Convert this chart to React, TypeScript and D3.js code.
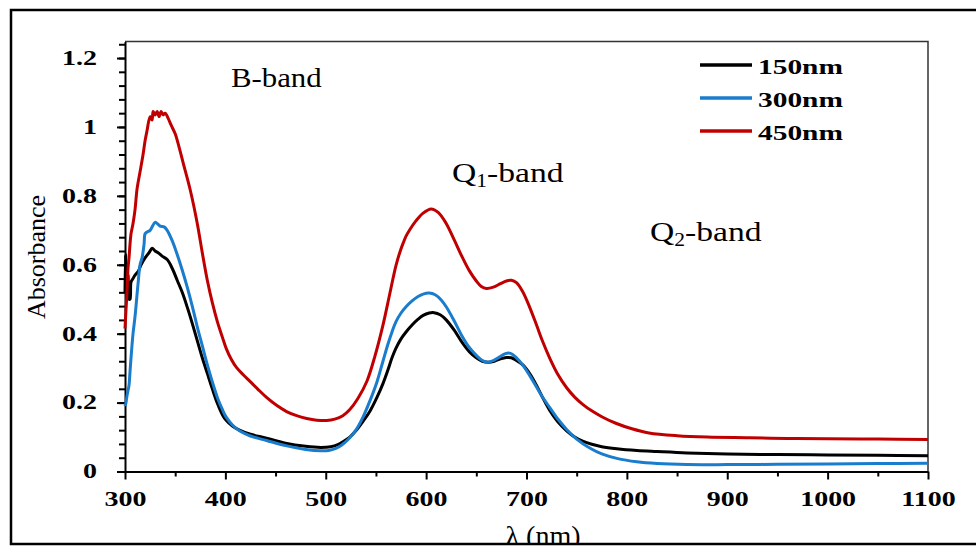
import React, { useEffect, useRef } from "react";
import * as d3 from "d3";

// [wavelength nm, absorbance]
const film150: [number, number][] = [
  [300, 0.52], [300.5, 0.63], [301, 0.58], [302, 0.55], [303, 0.57], [304, 0.5], [305, 0.5],
  [306, 0.55], [308, 0.56], [310, 0.57], [313, 0.58], [316, 0.6], [320, 0.62], [324, 0.635],
  [327, 0.648], [330, 0.64], [333, 0.635], [337, 0.625], [342, 0.615], [347, 0.59], [352, 0.555],
  [357, 0.52], [362, 0.477], [367, 0.43], [372, 0.38], [377, 0.33], [382, 0.285], [387, 0.24],
  [392, 0.198], [397, 0.165], [401, 0.148], [407, 0.132], [414, 0.12], [425, 0.108], [441, 0.097],
  [460, 0.082], [480, 0.073], [495, 0.07], [505, 0.072], [512, 0.078], [518, 0.088], [524, 0.1],
  [530, 0.118], [537, 0.145], [544, 0.175], [551, 0.215], [557, 0.255], [562, 0.295], [566, 0.33],
  [570, 0.358], [575, 0.385], [580, 0.405], [586, 0.425], [592, 0.442], [597, 0.453], [603, 0.46],
  [608, 0.461], [614, 0.455], [620, 0.44], [628, 0.41], [636, 0.374], [643, 0.348], [650, 0.33],
  [656, 0.32], [662, 0.317], [668, 0.32], [674, 0.327], [680, 0.331], [685, 0.33], [690, 0.322],
  [696, 0.31], [703, 0.285], [710, 0.25], [716, 0.215], [723, 0.178], [731, 0.145], [740, 0.118],
  [748, 0.1], [756, 0.088], [765, 0.079], [775, 0.072], [790, 0.066], [810, 0.061], [830, 0.058],
  [860, 0.054], [900, 0.051], [950, 0.049], [1000, 0.048], [1050, 0.047], [1100, 0.046],
];

const film300: [number, number][] = [
  [300, 0.19], [301, 0.2], [302, 0.22], [303, 0.235], [304, 0.25], [305, 0.29], [306, 0.33],
  [308, 0.4], [310, 0.45], [313, 0.545], [315, 0.6], [317, 0.62], [319, 0.66], [320, 0.69],
  [322, 0.695], [325, 0.7], [327, 0.71], [330, 0.723], [332, 0.72], [335, 0.712], [339, 0.71],
  [342, 0.7], [347, 0.67], [352, 0.63], [357, 0.585], [362, 0.535], [367, 0.48], [372, 0.42],
  [377, 0.365], [382, 0.31], [387, 0.26], [392, 0.215], [397, 0.18], [401, 0.157], [407, 0.135],
  [414, 0.118], [425, 0.103], [441, 0.09], [460, 0.075], [480, 0.064], [495, 0.06], [503, 0.061],
  [510, 0.067], [516, 0.077], [522, 0.092], [530, 0.12], [537, 0.157], [544, 0.205], [551, 0.26],
  [557, 0.32], [562, 0.37], [566, 0.405], [570, 0.435], [575, 0.46], [580, 0.478], [586, 0.495],
  [592, 0.508], [597, 0.515], [603, 0.518], [609, 0.513], [615, 0.498], [620, 0.478], [628, 0.437],
  [636, 0.392], [643, 0.36], [650, 0.337], [656, 0.322], [661, 0.317], [667, 0.322], [673, 0.332],
  [679, 0.342], [684, 0.343], [690, 0.33], [696, 0.31], [706, 0.265], [714, 0.225], [723, 0.186],
  [731, 0.153], [740, 0.122], [750, 0.094], [763, 0.068], [775, 0.051], [790, 0.038], [810, 0.028],
  [830, 0.023], [860, 0.02], [900, 0.02], [950, 0.021], [1000, 0.022], [1050, 0.023], [1100, 0.024],
];

const film450: [number, number][] = [
  [300, 0.415], [301, 0.47], [302, 0.52], [303, 0.59], [304, 0.62], [305, 0.66], [306, 0.69],
  [308, 0.72], [310, 0.76], [312, 0.82], [315, 0.87], [318, 0.92], [320, 0.96], [322, 0.99],
  [325, 1.03], [327, 1.02], [328, 1.045], [330, 1.035], [332, 1.045], [334, 1.03], [336, 1.045],
  [338, 1.035], [340, 1.04], [343, 1.025], [346, 1.005], [350, 0.98], [354, 0.94], [358, 0.895],
  [365, 0.817], [372, 0.72], [377, 0.635], [382, 0.555], [387, 0.49], [392, 0.435], [397, 0.39],
  [401, 0.356], [406, 0.325], [411, 0.302], [418, 0.28], [424, 0.263], [432, 0.24], [441, 0.215],
  [451, 0.192], [461, 0.174], [471, 0.162], [481, 0.154], [491, 0.149], [501, 0.148], [509, 0.152],
  [517, 0.162], [524, 0.18], [532, 0.212], [541, 0.262], [549, 0.335], [557, 0.425], [563, 0.505],
  [567, 0.56], [570, 0.598], [574, 0.638], [577, 0.662], [580, 0.683], [584, 0.703], [590, 0.728],
  [597, 0.75], [605, 0.762], [612, 0.752], [620, 0.72], [628, 0.672], [636, 0.622], [643, 0.583],
  [650, 0.553], [655, 0.537], [660, 0.531], [667, 0.535], [674, 0.545], [680, 0.553], [685, 0.555],
  [690, 0.548], [696, 0.523], [703, 0.478], [710, 0.425], [716, 0.378], [723, 0.33], [731, 0.283],
  [740, 0.243], [748, 0.216], [756, 0.195], [765, 0.176], [775, 0.159], [789, 0.14], [805, 0.124],
  [822, 0.112], [850, 0.104], [880, 0.1], [922, 0.098], [960, 0.096], [1000, 0.095], [1050, 0.094],
  [1100, 0.093],
];

const seriesNames = ["150nm", "300nm", "450nm"];
const seriesColors = ["#000000", "#1a7ccc", "#c00000"];
const xTicks = [300, 400, 500, 600, 700, 800, 900, 1000, 1100];
const yTicks = [0, 0.2, 0.4, 0.6, 0.8, 1, 1.2];

const FONT = "'Liberation Serif', 'Times New Roman', serif";

export default function App() {
  const ref = useRef<SVGSVGElement>(null);

  useEffect(() => {
    const svg = d3.select(ref.current);
    svg.selectAll("*").remove();

    const x = d3.scaleLinear().domain([300, 1100]).range([125, 928]);
    const y = d3.scaleLinear().domain([0, 1.248]).range([471.5, 41.5]);

    // outer frame of the figure
    svg.append("rect")
      .attr("x", 11).attr("y", 10).attr("width", 1000).attr("height", 534)
      .attr("fill", "none").attr("stroke", "#000").attr("stroke-width", 2.5);

    // plot border (top + right)
    svg.append("path")
      .attr("d", `M${x(300)},${y(1.248)}H${x(1100)}V${y(0)}`)
      .attr("fill", "none").attr("stroke", "#333").attr("stroke-width", 1.5);

    // minor ticks
    svg.append("g")
      .attr("transform", `translate(0,${y(0)})`)
      .call(d3.axisBottom(x).tickValues(d3.range(350, 1100, 100)).tickSize(5).tickSizeOuter(0).tickFormat(() => ""))
      .call(g => g.select(".domain").remove())
      .selectAll("line").attr("stroke-width", 2);
    svg.append("g")
      .attr("transform", `translate(${x(300)},0)`)
      .call(d3.axisLeft(y).tickValues(d3.range(0, 1.241, 0.04)).tickSize(6).tickSizeOuter(0).tickFormat(() => ""))
      .call(g => g.select(".domain").remove())
      .selectAll("line").attr("stroke-width", 2);

    // major axes
    const xAxis = svg.append("g")
      .attr("transform", `translate(0,${y(0)})`)
      .call(d3.axisBottom(x).tickValues(xTicks).tickSize(8).tickSizeOuter(0).tickFormat(d => String(d)));
    xAxis.select(".domain").attr("stroke-width", 2);
    xAxis.selectAll("line").attr("stroke-width", 2);
    xAxis.selectAll("text")
      .attr("y", 34.5).attr("dy", null)
      .attr("transform", "scale(1.4,1)")
      .attr("font-family", FONT).attr("font-size", 20).attr("font-weight", "bold").attr("fill", "#000");

    const yAxis = svg.append("g")
      .attr("transform", `translate(${x(300)},0)`)
      .call(d3.axisLeft(y).tickValues(yTicks).tickSize(8).tickSizeOuter(0).tickFormat(d => String(d)));
    yAxis.select(".domain").attr("stroke-width", 2);
    yAxis.selectAll("line").attr("stroke-width", 2);
    yAxis.selectAll("text")
      .attr("x", -20)
      .attr("transform", "scale(1.4,1)")
      .attr("font-family", FONT).attr("font-size", 20).attr("font-weight", "bold").attr("fill", "#000");

    // spectra
    const line = d3.line<[number, number]>()
      .x(d => x(d[0]))
      .y(d => y(d[1]))
      .curve(d3.curveCatmullRom.alpha(0.5));

    [film150, film300, film450].forEach((data, i) => {
      svg.append("path")
        .datum(data)
        .attr("d", line)
        .attr("fill", "none")
        .attr("stroke", seriesColors[i])
        .attr("stroke-width", 3)
        .attr("stroke-linejoin", "round");
    });

    // legend
    const legend = svg.append("g");
    seriesNames.forEach((name, i) => {
      const ly = 65 + i * 33;
      legend.append("line")
        .attr("x1", 700).attr("x2", 752).attr("y1", ly).attr("y2", ly)
        .attr("stroke", seriesColors[i]).attr("stroke-width", 3.5);
      legend.append("text")
        .attr("transform", `translate(758,${ly + 9}) scale(1.4,1)`)
        .attr("font-family", FONT).attr("font-size", 21).attr("font-weight", "bold")
        .text(name);
    });

    // band labels
    svg.append("text")
      .attr("transform", "translate(231,87) scale(1.1,1)")
      .attr("font-family", FONT).attr("font-size", 28)
      .text("B-band");

    const qLabel = (tx: number, ty: number, sub: string) => {
      const t = svg.append("text")
        .attr("transform", `translate(${tx},${ty}) scale(1.2,1)`)
        .attr("font-family", FONT).attr("font-size", 28);
      t.append("tspan").text("Q");
      t.append("tspan").attr("font-size", 18).attr("dy", 5).text(sub);
      t.append("tspan").attr("dy", -5).text("-band");
    };
    qLabel(452, 182, "1");
    qLabel(650, 241, "2");

    // axis titles
    svg.append("text")
      .attr("transform", `translate(45,257) rotate(-90)`)
      .attr("text-anchor", "middle")
      .attr("font-family", FONT).attr("font-size", 26)
      .text("Absorbance");

    // the x title runs under the figure frame, as in the source image
    svg.append("defs").append("clipPath").attr("id", "cut")
      .append("rect").attr("x", 0).attr("y", 0).attr("width", 976).attr("height", 543);
    svg.append("text")
      .attr("clip-path", "url(#cut)")
      .attr("x", 543).attr("y", 545)
      .attr("text-anchor", "middle")
      .attr("font-family", FONT).attr("font-size", 28)
      .text("λ (nm)");
  }, []);

  return (
    <svg
      ref={ref}
      width={976}
      height={547}
      style={{ position: "absolute", left: 0, top: 0, background: "#fff" }}
    />
  );
}
